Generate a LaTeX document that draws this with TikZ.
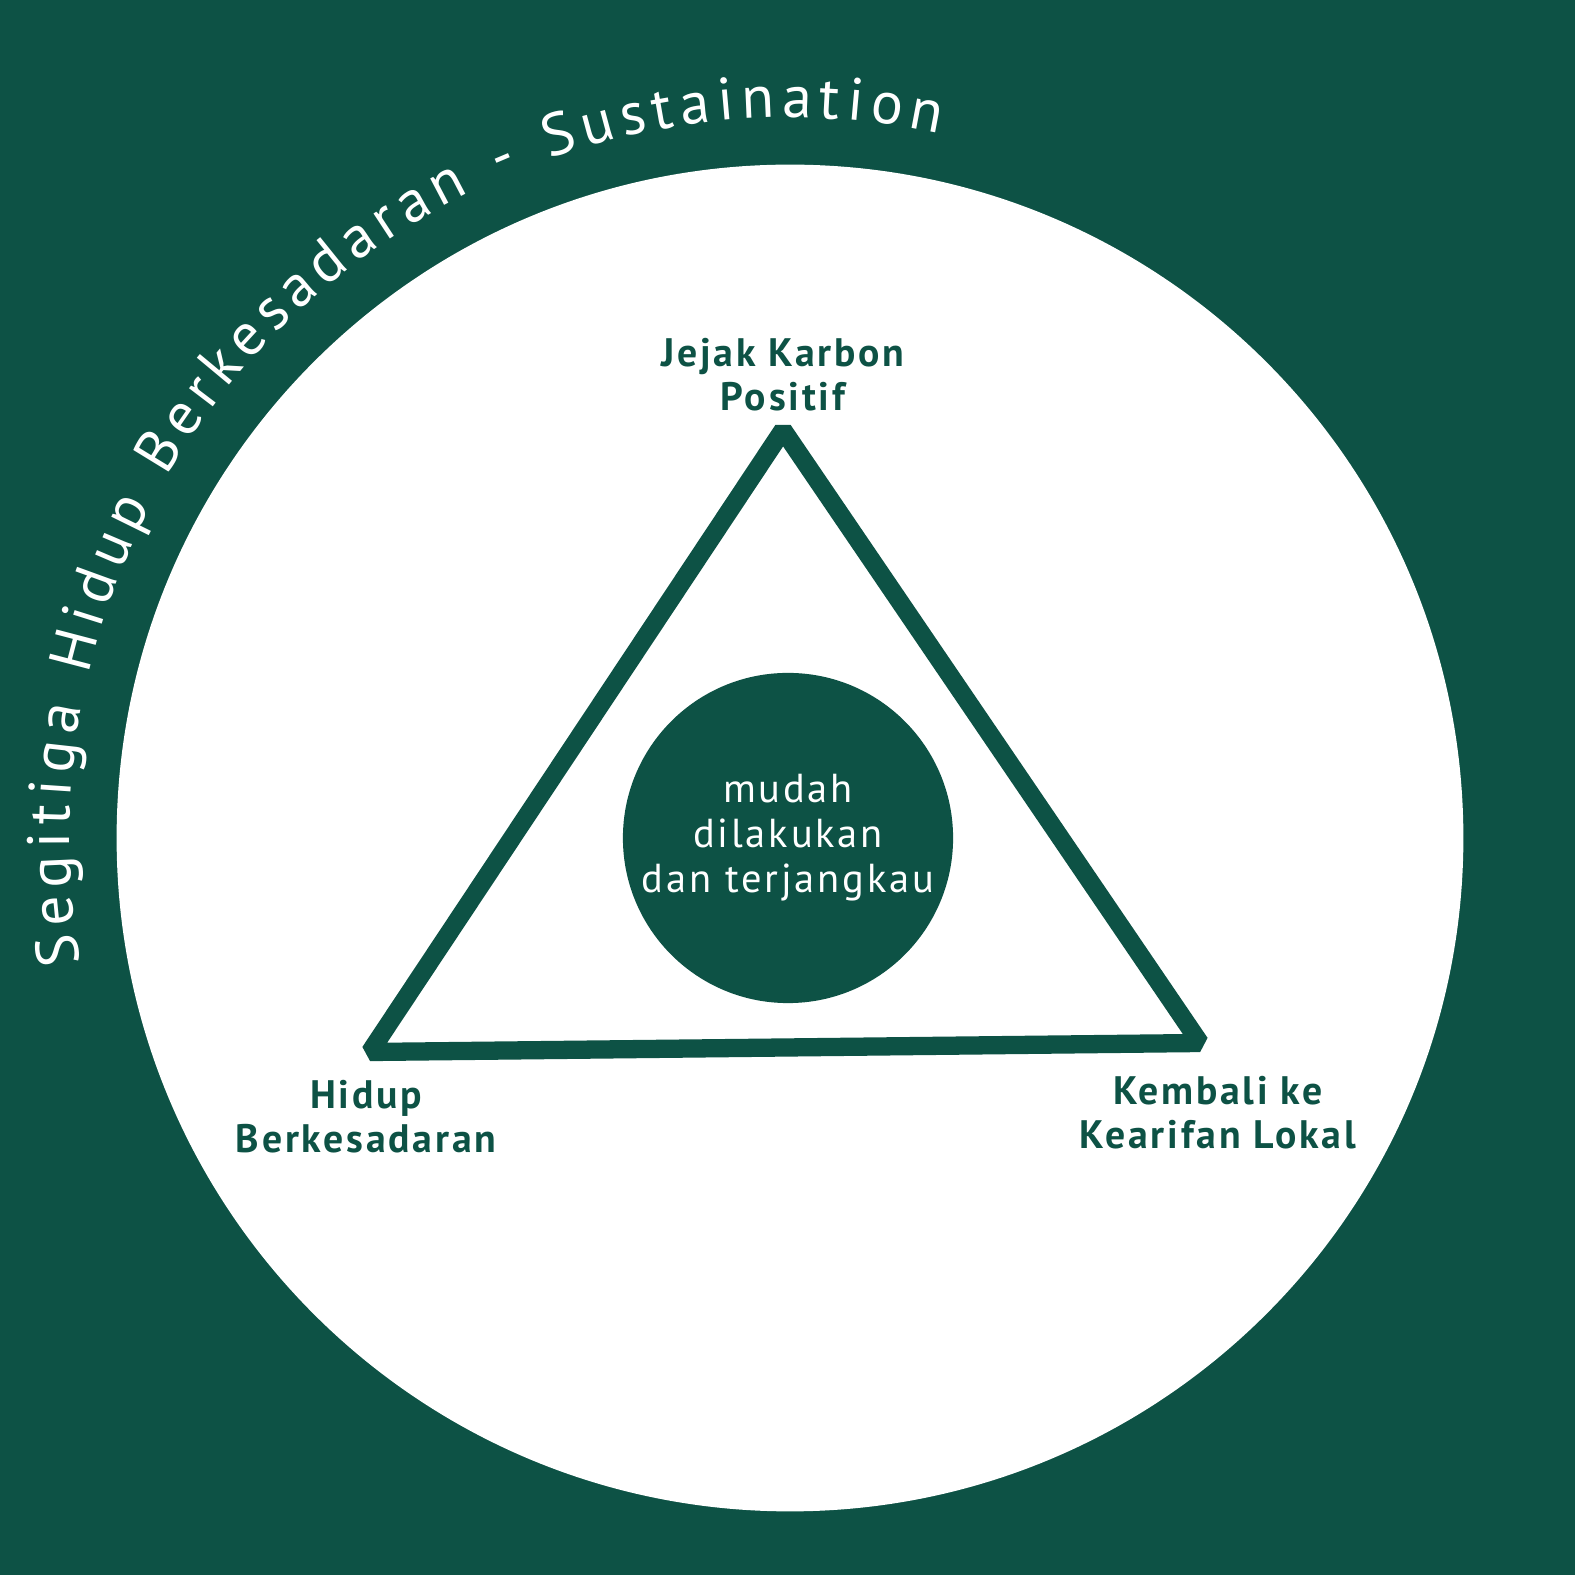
\documentclass[tikz,border=0pt]{standalone}
\usepackage{fontspec}
\usetikzlibrary{decorations.text}
\newfontfamily\labfont{PT Sans}[LetterSpace=7]
\newfontfamily\arcfont{PT Sans}[LetterSpace=4]
\definecolor{dgr}{HTML}{0D5245}
\tikzset{
    corner/.style={font=\labfont\bfseries\fontsize{11.3}{12.5}\selectfont,text=dgr,align=center},
    inner/.style={font=\labfont\fontsize{11.5}{12.8}\selectfont,text=white,align=center}
}
\begin{document}
\begin{tikzpicture}[x=0.01cm,y=0.01cm]
    \fill [dgr] (0,0) rectangle (1575,1575);
    \fill [white] (790,737) circle [radius=6.73cm];
    \coordinate (top) at (783,1145);
    \coordinate (left) at (370,523);
    \coordinate (right) at (1200,532);
    \draw [dgr,line width=5.2pt,line join=bevel] (top) -- (right) -- (left) -- cycle;
    \node [circle,fill=dgr,minimum size=3.3cm,inner sep=0pt] (hub) at (788,737) {};
    \node [inner] at (hub) {mudah\\dilakukan\\dan terjangkau};
    \node [corner] (tlab) at (783,1200) {Jejak Karbon\\Positif};
    \node [corner] (llab) at (366,458) {Hidup\\Berkesadaran};
    \node [corner] (rlab) at (1218,462) {Kembali ke\\Kearifan Lokal};
    \path [decorate,decoration={text along path,text align=fit to path,
        text={|\color{white}\arcfont\fontsize{17}{18}\selectfont|Segitiga Hidup Berkesadaran - Sustaination}}]
        (790,737) ++(190:7.2cm) arc [start angle=190,end angle=78,radius=7.2cm];
\end{tikzpicture}
\end{document}
